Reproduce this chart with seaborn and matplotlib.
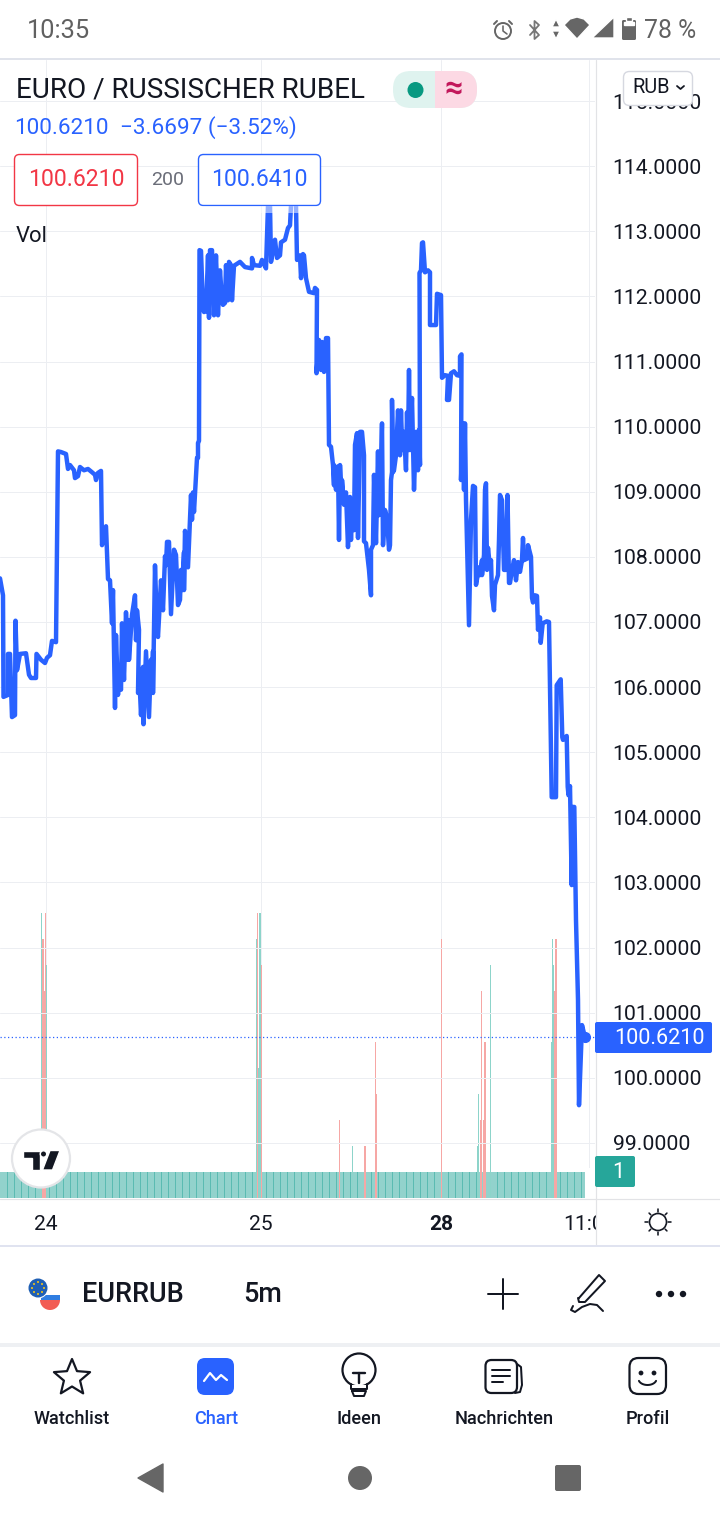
import matplotlib
matplotlib.use("Agg")
import numpy as np
import pandas as pd
import matplotlib.pyplot as plt
import seaborn as sns
from matplotlib.patches import Circle, FancyBboxPatch, Polygon, Rectangle, Wedge

# price line, x is position along the time scale
line_x = [
    0, 3, 3.5, 8, 8, 10, 12, 15, 15.5, 17,
    20, 26, 29, 31, 36, 36.5, 41, 45, 47, 50,
    52, 56, 58, 61, 66, 68, 70, 74, 75, 78,
    80, 84, 88, 92, 95, 96, 98, 101, 102, 106,
    108, 110, 112, 113, 115, 116, 118, 119, 121, 122,
    124, 126, 128, 128.5, 129, 132, 135, 136, 137, 139,
    138, 140, 141, 143, 143.5, 146, 148, 149, 151, 152,
    153, 153, 155, 157, 158, 161, 163, 165, 166, 167,
    169, 171, 174, 176, 178, 180, 181, 182, 184, 184,
    185, 188, 191, 192, 193, 194, 197, 198, 198, 199,
    199.5, 201, 203, 204, 206, 208, 209, 210, 212, 214,
    216, 218, 220, 222, 223, 225, 226, 228, 229, 231,
    232, 234, 240, 245, 252, 252, 254, 260, 262, 266,
    268, 269, 270, 271, 275, 277, 280, 281, 285, 288,
    290, 291, 295, 296, 297, 300, 301, 303, 304, 306,
    309, 314, 315, 317, 316.5, 319, 321, 322, 324, 326,
    328, 329, 331, 333, 334, 334, 336, 338, 339, 340,
    342, 342, 344, 346, 348, 350, 351, 352, 354, 355,
    357, 358, 360, 362, 364, 364, 366, 367, 369, 371,
    371, 373, 374, 376, 378, 379, 380, 382, 383, 385,
    387, 389, 390, 391, 392, 392, 393, 394, 396, 398,
    400, 401, 402, 403, 404, 406, 407, 408, 409, 410,
    412, 414, 416, 418, 419, 420, 419.5, 421, 422, 423,
    425, 428, 430, 430, 436, 437, 441, 442, 445, 448,
    447, 449, 451, 454, 457, 460, 460, 461.5, 461, 463,
    464, 465, 466, 469, 471, 473, 475, 476, 479, 480,
    482, 482, 484, 485, 486, 487, 488, 490, 491, 492,
    494, 495, 498, 499, 500, 502, 504, 506, 507.5, 509,
    510, 512, 514, 516, 518, 520, 522, 523, 524, 528,
    528, 531, 532, 533, 535, 537, 538, 540, 540.7, 542.7,
    546.7, 549, 551.7, 556, 556.7, 560.7, 562.3, 563, 566.7, 567.7,
    568.5, 570, 571.7, 572.7, 574.3, 576, 578, 579, 582, 585,
]
line_price = [
    107.67, 107.41, 105.85, 105.88, 106.51, 106.51, 105.54, 105.57, 107.02, 106.26,
    106.51, 106.52, 106.19, 106.14, 106.14, 106.51, 106.42, 106.37, 106.45, 106.49,
    106.71, 106.69, 109.62, 109.61, 109.58, 109.35, 109.41, 109.33, 109.21, 109.24,
    109.38, 109.33, 109.35, 109.30, 109.26, 109.18, 109.29, 109.32, 108.18, 108.47,
    107.66, 107.64, 106.98, 107.49, 105.68, 106.80, 105.88, 106.11, 105.96, 106.98,
    106.11, 107.15, 106.42, 107.03, 106.42, 107.11, 107.41, 106.72, 107.18, 106.88,
    105.91, 105.92, 105.57, 106.31, 105.43, 106.55, 105.88, 105.54, 106.42, 105.96,
    106.55, 105.91, 107.87, 106.88, 106.77, 107.64, 107.18, 108.01, 107.87, 108.23,
    108.23, 107.12, 108.11, 108.03, 107.26, 107.34, 107.80, 107.49, 108.07, 107.49,
    108.40, 107.84, 108.95, 108.57, 108.99, 108.69, 109.52, 109.52, 109.75, 109.78,
    112.71, 112.70, 111.82, 111.76, 111.77, 112.63, 111.67, 112.71, 112.71, 111.71,
    112.63, 111.71, 112.40, 111.94, 111.87, 111.90, 112.48, 111.94, 112.53, 112.48,
    111.94, 112.47, 112.53, 112.45, 112.43, 112.59, 112.48, 112.47, 112.56, 112.43,
    113.40, 113.63, 113.40, 112.53, 112.87, 112.59, 112.63, 112.83, 112.87, 113.05,
    113.09, 113.40, 113.63, 113.40, 112.56, 112.63, 112.28, 112.65, 112.63, 112.28,
    112.07, 112.05, 112.13, 112.10, 110.82, 111.33, 110.87, 111.30, 110.84, 111.36,
    111.36, 109.72, 109.69, 109.41, 109.10, 109.41, 109.03, 109.39, 108.26, 109.41,
    108.83, 109.18, 108.80, 108.99, 108.15, 108.92, 108.26, 108.76, 108.41, 109.72,
    109.90, 108.29, 109.92, 109.92, 109.56, 108.24, 108.21, 108.07, 107.80, 107.41,
    108.11, 108.18, 109.26, 108.21, 109.62, 108.64, 108.87, 110.05, 108.18, 108.72,
    108.60, 108.11, 108.18, 109.18, 109.30, 110.41, 109.30, 109.33, 109.56, 110.25,
    109.56, 110.25, 109.76, 109.64, 109.92, 109.33, 110.22, 109.64, 110.87, 109.64,
    110.44, 109.03, 109.92, 109.33, 109.95, 109.41, 112.36, 112.40, 112.82, 112.83,
    112.37, 112.40, 112.37, 111.56, 111.56, 112.04, 112.02, 110.75, 110.79, 110.78,
    110.41, 110.41, 110.82, 110.85, 110.79, 110.78, 111.08, 111.11, 109.18, 110.05,
    109.03, 110.05, 108.87, 106.95, 108.57, 109.09, 109.07, 107.57, 107.84, 107.72,
    107.95, 107.72, 108.03, 109.03, 109.13, 107.80, 108.14, 107.83, 107.95, 107.40,
    107.18, 107.57, 107.72, 108.26, 108.95, 108.87, 107.80, 107.80, 108.95, 107.60,
    107.60, 107.80, 107.95, 107.64, 107.92, 107.77, 107.95, 108.29, 107.95, 107.98,
    108.18, 108.00, 107.37, 107.30, 107.41, 107.40, 106.88, 107.07, 106.68, 106.98,
    107.01, 107.00, 104.31, 104.31, 106.03, 106.12, 105.23, 105.19, 105.25, 104.47,
    104.34, 104.48, 102.96, 104.16, 104.16, 102.42, 101.20, 99.58, 100.81, 100.621,
]
last_price = 100.621

# volume: the quiet floor of the pane and the spikes above it
floor_pos = [7 * i + 3.5 for i in range(84)]
floor_vol = [1] * len(floor_pos)

spike_pos = [41.5, 42.5, 43.5, 44.5, 45.5, 46.5, 256.5, 257.5, 258.5, 259.5, 260.5, 261.5,
             339.5, 352.5, 364.5, 365.5, 375.5, 376.5, 441.5, 477.5, 478.5, 480.5, 481.5,
             483.5, 484.5, 485.5, 490.5, 551.5, 552.5, 553.5, 554.5, 555.5, 556.5]
spike_vol = [11, 10, 10, 8, 11, 9, 10, 11, 5, 11, 11, 9,
             3, 2, 2, 2, 6, 4, 10, 2, 4, 3, 8,
             3, 6, 6, 9, 6, 10, 9, 8, 10, 10]
spike_dir = ["up", "down", "down", "down", "down", "up", "up", "down", "up", "up", "up", "down",
             "down", "up", "down", "down", "down", "down", "down", "up", "up", "down", "down",
             "down", "down", "down", "up", "up", "up", "up", "down", "down", "down"]

price_ticks = list(range(99, 116))
time_ticks = [46, 261, 441, 589]
time_labels = ["24", "25", "28", "11:00"]

BLUE = "#2962ff"
TEAL = "#26a69a"
INK = "#131722"
GRID = "#eceef2"
BORDER = "#e0e3eb"
GREY = "#666666"

sns.set_theme(style="white")
plt.rcParams["font.family"] = ["Roboto", "DejaVu Sans"]

W, H = 720, 1520
fig = plt.figure(figsize=(W / 100, H / 100), dpi=100, facecolor="white")

# chart pane runs from x 0 to 595 and y 60 to 1198
ax_vol = fig.add_axes([0, (H - 1198) / H, 595 / W, (1198 - 60) / H])
ax = ax_vol.twinx()
ax.set_zorder(2)
ax_vol.set_zorder(1)
ax.patch.set_visible(False)

sns.barplot(x=floor_pos, y=floor_vol, native_scale=True, width=8 / 7, color=TEAL, alpha=0.5,
            saturation=1, linewidth=0, errorbar=None, ax=ax_vol)
spikes = pd.DataFrame({"pos": spike_pos, "vol": spike_vol, "dir": spike_dir})
sns.barplot(data=spikes, x="pos", y="vol", hue="dir", native_scale=True, dodge=False, width=1.15,
            palette={"up": "#8dd4ca", "down": "#f6a7a5"}, saturation=1, linewidth=0,
            errorbar=None, legend=False, ax=ax_vol)
ax_vol.set_ylim(0, 43.9)
ax_vol.set_yticks([])
ax_vol.set_ylabel("")
ax_vol.set_xlabel("")
ax_vol.set_xticks(time_ticks)
ax_vol.set_xticklabels(time_labels, fontsize=15.1, color=INK)
ax_vol.get_xticklabels()[2].set_fontweight("bold")
ax_vol.tick_params(axis="x", length=0, pad=12.2)
ax_vol.grid(True, axis="x", color=GRID, lw=0.72)
ax_vol.set_axisbelow(True)

sns.lineplot(x=line_x, y=line_price, sort=False, estimator=None, errorbar=None, color=BLUE,
             linewidth=3.2, solid_joinstyle="round", solid_capstyle="round", ax=ax)
ax.plot([line_x[-1]], [last_price], "o", color=BLUE, ms=7, zorder=5)
ax.axhline(last_price, color=BLUE, lw=0.9, ls=(0, (1, 2)), zorder=1)

ax.set_xlim(0, 595)
ax.set_ylim(98.155, 115.63)
ax.set_yticks(price_ticks)
ax.set_yticklabels([f"{p:.4f}" for p in price_ticks], fontsize=15.3, color=INK)
ax.tick_params(axis="y", length=0, pad=12.6)
ax.set_ylabel("")
ax.set_xlabel("")
ax.grid(True, axis="y", color=GRID, lw=0.72)
for a in (ax, ax_vol):
    for s in a.spines.values():
        s.set_visible(False)

# everything around the chart is the app chrome, drawn in pixel coordinates
ui = fig.add_axes([0, 0, 1, 1], zorder=10)
ui.set_xlim(0, W)
ui.set_ylim(H, 0)
ui.axis("off")
ui.patch.set_visible(False)


def txt(x, y, s, size, color=INK, ha="left", weight="normal", zorder=6):
    ui.text(x, y, s, fontsize=size * 0.72, color=color, ha=ha, va="center", fontweight=weight,
            zorder=zorder)


def rbox(x0, y0, x1, y1, r, fc="white", ec="none", lw=1.0, zorder=4):
    p = FancyBboxPatch((x0 + r, y0 + r), x1 - x0 - 2 * r, y1 - y0 - 2 * r,
                       boxstyle=f"round,pad={r}", fc=fc, ec=ec, lw=lw, zorder=zorder)
    ui.add_patch(p)
    return p


def stroke(xs, ys, color=INK, lw=2.0, zorder=6):
    ui.plot(xs, ys, color=color, lw=lw * 0.72, solid_capstyle="round", solid_joinstyle="round",
            zorder=zorder)


# frame lines and masks: the last time label stops at the price scale, the floor at the last bar
ui.add_patch(Rectangle((596, 1199), 124, 46, fc="white", ec="none", zorder=2))
ui.add_patch(Rectangle((585, 1168), 10, 30, fc="white", ec="none", zorder=2))
ui.add_patch(Rectangle((0, 0), W, 58, fc="white", ec="none", zorder=2))
ui.add_patch(Rectangle((0, 1247), W, 273, fc="white", ec="none", zorder=2))
stroke([0, W], [59, 59], BORDER, 2, 3)
stroke([595.5, 595.5], [60, 1245], "#e2e3e6", 1.2, 3)
stroke([0, W], [1198.5, 1198.5], "#e2e3e6", 1.2, 3)
stroke([0, W], [1246, 1246], "#e0e3f0", 2, 3)
ui.add_patch(Rectangle((0, 1343), W, 4, fc="#eef0f3", ec="none", zorder=3))

# status bar
txt(27, 31, "10:35", 25.5, "#616161")
txt(644, 31, "78 %", 24.8, "#616161")
ui.add_patch(Circle((503, 31), 8, fc="none", ec="#666666", lw=1.4, zorder=6))
stroke([503, 503, 507], [26, 31, 34], "#666666", 1.6)
stroke([494, 497], [24, 21], "#666666", 2)
stroke([509, 512], [21, 24], "#666666", 2)
stroke([530, 539, 534.5, 534.5, 539, 530], [25, 35, 39, 21, 25, 35], "#777777", 1.8)
ui.add_patch(Polygon([[552, 27], [556, 19], [560, 27]], fc="#666666", zorder=6))
ui.add_patch(Polygon([[552, 31], [556, 39], [560, 31]], fc="#666666", zorder=6))
ui.add_patch(Polygon([[564, 25], [570, 19], [577, 17], [584, 19], [590, 25], [577, 39]], fc="#666666", zorder=6))
ui.add_patch(Polygon([[592, 38], [614, 17], [614, 38]], fc="#666666", zorder=6))
rbox(622, 20, 636, 40, 1.5, fc="#666666", zorder=6)
ui.add_patch(Rectangle((626, 17), 6, 4, fc="#666666", zorder=6))
ui.add_patch(Rectangle((624, 22), 10, 3, fc="white", zorder=7))

# legend block at the top of the chart
txt(16, 90, "EURO / RUSSISCHER RUBEL", 27.9)
pill = rbox(393, 71, 477, 108, 18, fc="#dff3ef", zorder=4)
pink = rbox(393, 71, 477, 108, 18, fc="#fcd9e4", zorder=4.5)
pink.set_clip_path(Rectangle((435, 60), 60, 60, transform=ui.transData))
ui.add_patch(Circle((415.5, 90), 8, fc="#089981", ec="none", zorder=6))
txt(454, 89, "≈", 32, "#c2185b", ha="center", weight="bold")
txt(14, 128, "100.6210", 22.5, BLUE)
txt(120, 128, "−3.6697 (−3.52%)", 22.5, BLUE)
rbox(14.5, 154.5, 137.5, 205.5, 5, ec="#f23645", lw=1.0)
txt(76, 180, "100.6210", 23, "#f23645", ha="center")
txt(168, 180, "200", 19.5, "#6a6d78", ha="center")
rbox(198.5, 154.5, 320.5, 205.5, 5, ec=BLUE, lw=1.0)
txt(259.5, 180, "100.6410", 23, BLUE, ha="center")
ui.add_patch(Rectangle((198, 206), 123, 7, fc="white", alpha=0.5, ec="none", zorder=4))
txt(16, 236, "Vol", 22)

# price scale extras
rbox(623.5, 71.5, 692.5, 105.5, 6, ec="#d6d8e0", lw=1.0)
txt(632, 87.5, "RUB", 20)
stroke([677, 680.5, 684], [86, 89, 86], INK, 1.8)
rbox(595, 1022, 712, 1053, 2, fc=BLUE)
txt(614, 1038, "100.6210", 21.7, "white")
rbox(595, 1156, 635, 1187, 2, fc=TEAL)
txt(618, 1172, "1", 21.7, "white", ha="center")

# sun icon in the corner of the scales
ui.add_patch(Circle((658, 1222), 8.5, fc="none", ec=INK, lw=1.2, zorder=6))
for dx, dy in [(0, -12), (0, 12), (-12, 0), (12, 0), (-8.5, -8.5), (8.5, -8.5), (-8.5, 8.5), (8.5, 8.5)]:
    stroke([658 + dx * 0.85, 658 + dx * 1.05], [1222 + dy * 0.85, 1222 + dy * 1.05], INK, 1.6)

# logo badge
ui.add_patch(Circle((41, 1158.5), 29, fc="white", ec="#e4e5e8", lw=1.6, zorder=6))
ui.add_patch(Polygon([[22.5, 1150.5], [40, 1150.5], [40, 1170], [32, 1170], [32, 1158], [22.5, 1158]],
                     fc=INK, zorder=7))
ui.add_patch(Circle((43.5, 1154), 3.2, fc=INK, zorder=7))
ui.add_patch(Polygon([[50, 1150.5], [60, 1150.5], [52.5, 1170], [42.5, 1170]], fc=INK, zorder=7))

# symbol toolbar
ui.add_patch(Circle((50, 1300), 10, fc="white", ec="none", zorder=5))
ui.add_patch(Wedge((50, 1300), 10, 0, 180, fc="#f25c54", ec="none", zorder=5.5))
ui.add_patch(Rectangle((40.5, 1295), 19, 5, fc="#2f7de1", ec="none", zorder=5.5))
ui.add_patch(Circle((38, 1288), 10.5, fc="white", ec="none", zorder=5.8))
ui.add_patch(Circle((38, 1288), 9.5, fc="#1f5fb4", ec="none", zorder=6))
for dx, dy in [(0, -6), (0, 6), (-6, 0), (6, 0), (-4, -4), (4, -4), (-4, 4), (4, 4)]:
    ui.add_patch(Circle((38 + dx, 1288 + dy), 1, fc="#f5c518", ec="none", zorder=7))
txt(82, 1295, "EURRUB", 27, weight="medium")
txt(243, 1295, "5m", 27, weight="medium")
stroke([503, 503], [1279, 1309], INK, 2)
stroke([488, 518], [1294, 1294], INK, 2)
stroke([579, 599, 605, 585, 579, 578], [1298, 1275, 1281, 1302, 1302, 1298], INK, 2)
stroke([573, 571, 575, 582, 590, 597, 603], [1306, 1310, 1312, 1307, 1304, 1305, 1311], INK, 2)
for x in [659, 671, 683]:
    ui.add_patch(Circle((x, 1294), 3.2, fc=INK, ec="none", zorder=6))

# tab bar
tabs = ["Watchlist", "Chart", "Ideen", "Nachrichten", "Profil"]
tab_x = [72, 216, 359.5, 504, 647.5]
for label, x in zip(tabs, tab_x):
    txt(x, 1419, label, 18.2, BLUE if label == "Chart" else INK, ha="center", weight="medium")
star_a = np.deg2rad(np.arange(-90, 270, 36))
star_r = np.array([19, 8.5] * 5)
ui.add_patch(Polygon(np.c_[72 + star_r * np.cos(star_a), 1378 + star_r * np.sin(star_a)],
                     fc="none", ec=INK, lw=1.6, joinstyle="round", zorder=6))
rbox(197, 1358, 234, 1395, 8, fc=BLUE, zorder=5)
stroke([204, 210, 216, 221, 227], [1381, 1373, 1380, 1375, 1380], "white", 2.2)
ui.add_patch(Circle((359, 1370), 16.5, fc="none", ec=INK, lw=1.6, zorder=6))
ui.add_patch(Rectangle((350, 1385), 18, 6, fc="white", ec="none", zorder=6.5))
stroke([351, 351, 367, 367], [1384, 1389, 1389, 1384], INK, 2, 7)
stroke([352, 354, 364, 366, 352], [1391, 1396, 1396, 1391, 1391], INK, 2, 7)
stroke([353, 365], [1373, 1373], INK, 2.4, 7)
stroke([359, 359], [1373, 1383], INK, 2.4, 7)
rbox(485.5, 1360, 517, 1393, 6, ec=INK, lw=1.6, zorder=6)
stroke([517, 521, 522, 520, 515], [1364, 1367, 1385, 1392, 1393], INK, 2)
for y, x1 in [(1370, 510), (1376, 510), (1382, 503)]:
    stroke([492, x1], [y, y], INK, 2)
rbox(629.5, 1358, 666, 1394, 9, ec=INK, lw=1.6, zorder=6)
ui.add_patch(Circle((641, 1373), 2.4, fc=INK, ec="none", zorder=7))
ui.add_patch(Circle((654, 1373), 2.4, fc=INK, ec="none", zorder=7))
smile = np.linspace(0.1, 0.9, 15) * np.pi
stroke(647.5 + 9 * np.cos(smile), 1379 + 6 * np.sin(smile), INK, 2)

# android nav bar
ui.add_patch(Polygon([[138, 1478], [163, 1464], [163, 1492]], fc=GREY, ec=GREY, lw=1, joinstyle="round", zorder=6))
ui.add_patch(Circle((360, 1478), 12, fc=GREY, ec="none", zorder=6))
rbox(555, 1465, 581, 1491, 2, fc=GREY, zorder=6)

fig.savefig("out.png", dpi=100, facecolor="white")
